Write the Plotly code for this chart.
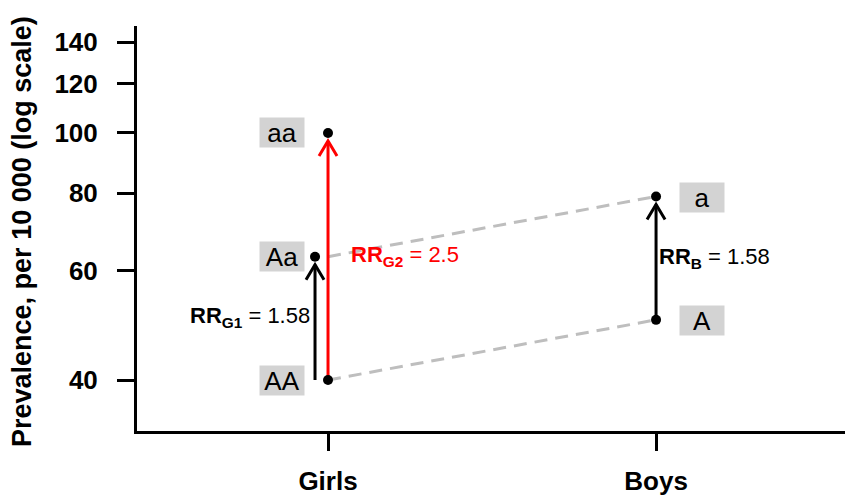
import math
import plotly.graph_objects as go

# ---------------- data ----------------
groups = ["Girls", "Boys"]
group_x = [1, 2]
girls_labels = ["AA", "Aa", "aa"]
girls_values = [40, 63.2, 100]
boys_labels = ["A", "a"]
boys_values = [50, 79]
rr_g1 = 1.58
rr_g2 = 2.5
rr_b = 1.58
y_ticks = [40, 60, 80, 100, 120, 140]
y_title = "Prevalence, per 10 000 (log scale)"

# ---------------- layout constants ----------------
W, H = 845, 495
ML, MR, MT, MB = 137, 0, 26, 64
PW, PH = W - ML - MR, H - MT - MB
XR = [0.4177, 2.576]
YR = [1.5199, 2.1723]
XS = PW / (XR[1] - XR[0])      # px per x unit
YS = PH / (YR[1] - YR[0])      # px per log10 unit

def dxp(px):
    return px / XS

def dyp(px):
    return px / YS

FONT = "Liberation Sans, Arial, Helvetica, sans-serif"
GREY_LINE = "#bebebe"
BOX = "#d3d3d3"
AA_SHIFT = 13  # px left shift of the heterozygote point / arrow

gx, bx = group_x
aa_x = gx - dxp(AA_SHIFT)

fig = go.Figure()

# dashed connecting lines
fig.add_trace(go.Scatter(x=[gx, bx], y=[girls_values[0], boys_values[0]], mode="lines",
                         line=dict(color=GREY_LINE, width=3, dash="13px,8px"), hoverinfo="skip"))
fig.add_trace(go.Scatter(x=[gx, bx], y=[girls_values[1], boys_values[1]], mode="lines",
                         line=dict(color=GREY_LINE, width=3, dash="13px,8px"), hoverinfo="skip"))

def arrow(x, y0, y1, color):
    tip = 10 ** (math.log10(y1) - dyp(8))
    base = 10 ** (math.log10(tip) - dyp(15))
    fig.add_trace(go.Scatter(x=[x, x], y=[y0, tip], mode="lines",
                             line=dict(color=color, width=3), hoverinfo="skip"))
    fig.add_trace(go.Scatter(x=[x - dxp(9), x, x + dxp(9)], y=[base, tip, base], mode="lines",
                             line=dict(color=color, width=3), hoverinfo="skip"))

arrow(aa_x, girls_values[0], girls_values[1], "black")
arrow(gx, girls_values[0], girls_values[2], "red")
arrow(bx, boys_values[0], boys_values[1], "black")

# points
fig.add_trace(go.Scatter(x=[gx, aa_x, gx, bx, bx],
                         y=girls_values + boys_values, mode="markers",
                         marker=dict(color="black", size=10), hoverinfo="skip"))

ann = []
# genotype labels in grey boxes
for lab, v in zip(girls_labels, girls_values):
    ann.append(dict(x=gx, y=math.log10(v), xref="x", yref="y", text=lab, showarrow=False,
                    xshift=-46, width=44, height=29, bgcolor=BOX, borderpad=0,
                    font=dict(family=FONT, size=26, color="black")))
for lab, v in zip(boys_labels, boys_values):
    ann.append(dict(x=bx, y=math.log10(v), xref="x", yref="y", text=lab, showarrow=False,
                    xshift=45.5, yshift=-1, width=44, height=29, bgcolor=BOX, borderpad=0,
                    font=dict(family=FONT, size=26, color="black")))

def gmid(a, b):
    return 0.5 * (math.log10(a) + math.log10(b))

ann.append(dict(x=aa_x, y=gmid(girls_values[0], girls_values[1]), xref="x", yref="y",
                text=f"<b>RR<sub>G1</sub></b> = {rr_g1}", showarrow=False, xanchor="right",
                xshift=-3, yshift=1, font=dict(family=FONT, size=22, color="black")))
ann.append(dict(x=gx, y=gmid(girls_values[0], girls_values[2]), xref="x", yref="y",
                text=f"<b>RR<sub>G2</sub></b> = {rr_g2}", showarrow=False, xanchor="left",
                xshift=21, font=dict(family=FONT, size=22, color="red")))
ann.append(dict(x=bx, y=gmid(boys_values[0], boys_values[1]), xref="x", yref="y",
                text=f"<b>RR<sub>B</sub></b> = {rr_b}", showarrow=False, xanchor="left",
                xshift=1, font=dict(family=FONT, size=22, color="black")))

# y title
ann.append(dict(x=-(ML - 22) / PW, y=(H - MB - 232) / PH, xref="paper", yref="paper",
                text=f"<b>{y_title}</b>", textangle=-90, showarrow=False,
                xanchor="center", yanchor="middle",
                font=dict(family=FONT, size=27, color="black")))

fig.update_layout(
    width=W, height=H, margin=dict(l=ML, r=MR, t=MT, b=MB, autoexpand=False),
    paper_bgcolor="white", plot_bgcolor="white", showlegend=False,
    annotations=ann,
    xaxis=dict(range=XR, tickvals=group_x, ticktext=[f"<b>{g}</b>" for g in groups],
               showgrid=False, zeroline=False, showline=True, linecolor="black", linewidth=3,
               ticks="outside", ticklen=17, tickwidth=2.5, tickcolor="black",
               ticklabelstandoff=8,
               tickfont=dict(family=FONT, size=26, color="black")),
    yaxis=dict(type="log", range=YR, tickvals=y_ticks, ticktext=[f"<b>{t}</b>" for t in y_ticks],
               showgrid=False, zeroline=False, showline=True, linecolor="black", linewidth=3,
               ticks="outside", ticklen=17, tickwidth=2.5, tickcolor="black",
               ticklabelstandoff=14,
               tickfont=dict(family=FONT, size=26, color="black")),
)

fig.write_html("out.html", config={"displayModeBar": False},
               post_script="document.body.style.margin='0px';document.body.style.overflow='hidden';")
